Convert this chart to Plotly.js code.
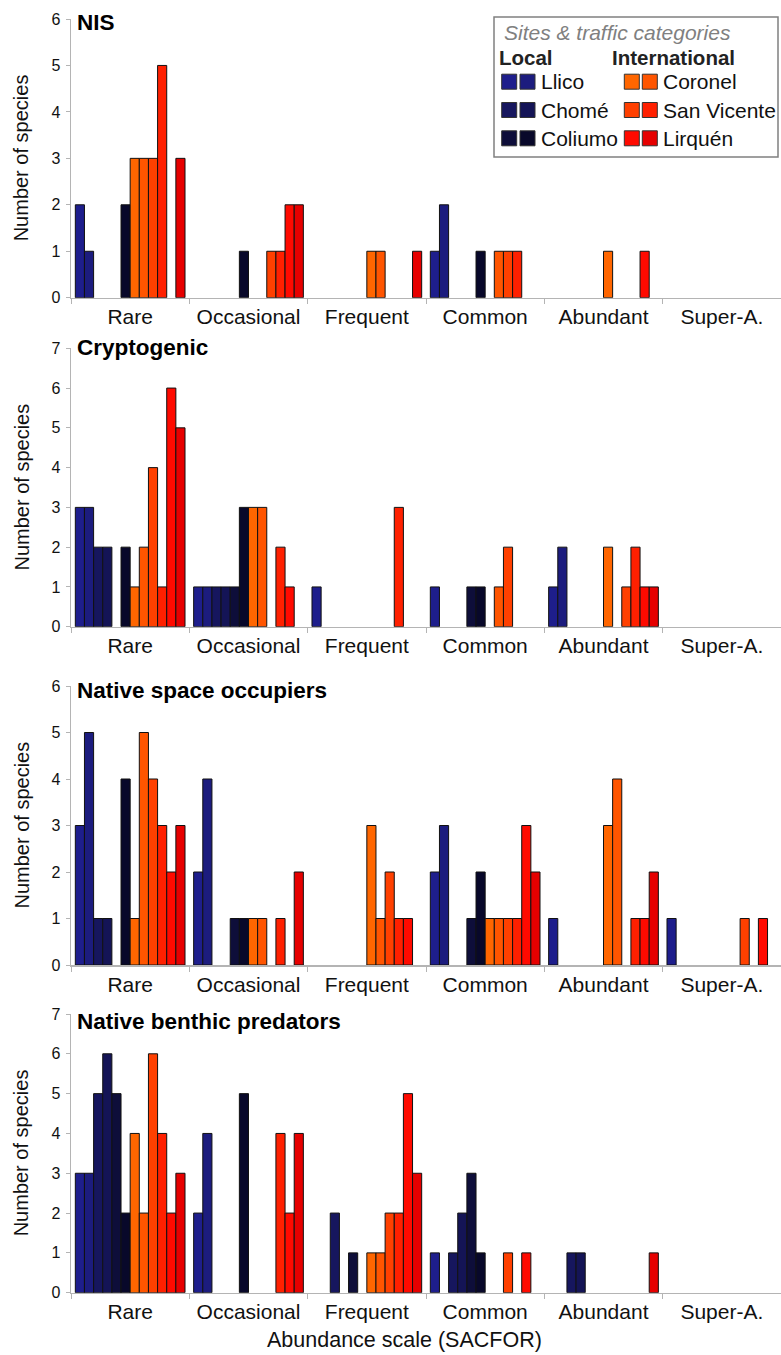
<!DOCTYPE html>
<html>
<head>
<meta charset="utf-8">
<script src="https://cdn.plot.ly/plotly-3.0.1.min.js"></script>
<style>html,body{margin:0;padding:0;background:#fff;}#chart{width:781px;height:1355px;}</style>
</head>
<body>
<div id="chart"></div>
<script>
// ---------- DATA ----------
const categories = ["Rare", "Occasional", "Frequent", "Common", "Abundant", "Super-A."];
const seriesNames = ["Llico 1", "Llico 2", "Chomé 1", "Chomé 2", "Coliumo 1", "Coliumo 2",
                     "Coronel 1", "Coronel 2", "San Vicente 1", "San Vicente 2", "Lirquén 1", "Lirquén 2"];
const localSites = ["Llico", "Chomé", "Coliumo"];
const internationalSites = ["Coronel", "San Vicente", "Lirquén"];
const panelTitles = ["NIS", "Cryptogenic", "Native space occupiers", "Native benthic predators"];
const yMax = [6, 7, 6, 7];

// rows = abundance category, columns = series (same order as seriesNames)
const nisCounts = [
  [2,1,0,0,0,2,3,3,3,5,0,3],
  [0,0,0,0,0,1,0,0,1,1,2,2],
  [0,0,0,0,0,0,1,1,0,0,0,1],
  [1,2,0,0,0,1,0,1,1,1,0,0],
  [0,0,0,0,0,0,1,0,0,0,1,0],
  [0,0,0,0,0,0,0,0,0,0,0,0]
];
const cryptogenicCounts = [
  [3,3,2,2,0,2,1,2,4,1,6,5],
  [1,1,1,1,1,3,3,3,0,2,1,0],
  [1,0,0,0,0,0,0,0,0,3,0,0],
  [1,0,0,0,1,1,0,1,2,0,0,0],
  [1,2,0,0,0,0,2,0,1,2,1,1],
  [0,0,0,0,0,0,0,0,0,0,0,0]
];
const spaceOccupierCounts = [
  [3,5,1,1,0,4,1,5,4,3,2,3],
  [2,4,0,0,1,1,1,1,0,1,0,2],
  [0,0,0,0,0,0,3,1,2,1,1,0],
  [2,3,0,0,1,2,1,1,1,1,3,2],
  [1,0,0,0,0,0,3,4,0,1,1,2],
  [1,0,0,0,0,0,0,0,1,0,1,0]
];
const benthicPredatorCounts = [
  [3,3,5,6,5,2,4,2,6,4,2,3],
  [2,4,0,0,0,5,0,0,0,4,2,4],
  [0,0,2,0,1,0,1,1,2,2,5,3],
  [1,0,1,2,3,1,0,0,1,0,1,0],
  [0,0,1,1,0,0,0,0,0,0,0,1],
  [0,0,0,0,0,0,0,0,0,0,0,0]
];

// ---------- STYLE ----------
const seriesColors = ["#1e1e8c","#1c1c7e","#16165e","#141456","#0e0e3a","#08082a",
                      "#ff6600","#ff5500","#ff4000","#ff2000","#ff0a00","#e60000"];
const W = 781, H = 1355;
const FONT = "Liberation Sans, Arial, sans-serif";
const panelPx = [[19, 297.7], [348.3, 626.7], [686, 965], [1014, 1292.7]];
const titleCenterPx = [22, 347.5, 690, 1021.5];
const xLeftPx = 71;
const px = v => v / W;
const py = v => 1 - v / H;

const panelData = [nisCounts, cryptogenicCounts, spaceOccupierCounts, benthicPredatorCounts];

const traces = [];
const layout = {
  width: W, height: H,
  margin: {l: 0, r: 0, t: 0, b: 0},
  paper_bgcolor: "#fff", plot_bgcolor: "rgba(0,0,0,0)",
  barmode: "group", bargap: 0.073, bargroupgap: 0,
  showlegend: false,
  font: {family: FONT, color: "#111"},
  annotations: [], shapes: []
};

panelData.forEach((data, p) => {
  const xa = p === 0 ? "x" : "x" + (p + 1);
  const ya = p === 0 ? "y" : "y" + (p + 1);
  seriesNames.forEach((name, s) => {
    traces.push({
      type: "bar", name: name, x: categories,
      y: categories.map((c, ci) => data[ci][s] === 0 ? null : data[ci][s]),
      xaxis: xa, yaxis: ya,
      marker: {color: seriesColors[s], line: {color: "#111", width: 1}},
      hoverinfo: "x+y+name"
    });
  });
  const [top, bot] = panelPx[p];
  const xKey = p === 0 ? "xaxis" : "xaxis" + (p + 1);
  const yKey = p === 0 ? "yaxis" : "yaxis" + (p + 1);
  layout[xKey] = {
    domain: [px(xLeftPx), 1], anchor: ya,
    type: "category", categoryorder: "array", categoryarray: categories,
    range: [-0.5, 5.5], showgrid: false, zeroline: false,
    showline: true, linecolor: "#b4b4b4", linewidth: 1.5,
    ticks: "outside", tickson: "boundaries", ticklen: 5, tickcolor: "#b4b4b4", tickwidth: 1,
    tickfont: {family: FONT, size: 21, color: "#111"},
    automargin: false, fixedrange: true
  };
  layout[yKey] = {
    domain: [py(bot), py(top)], anchor: xa,
    range: [0, yMax[p]], dtick: 1, showgrid: false, zeroline: false,
    showline: true, linecolor: "#b4b4b4", linewidth: 1.5,
    ticks: "outside", ticklen: 4, tickcolor: "#b4b4b4", tickwidth: 1,
    ticklabelstandoff: 2,
    tickfont: {family: FONT, size: 16, color: "#111"},
    automargin: false, fixedrange: true
  };
  // panel title
  layout.annotations.push({
    text: "<b>" + panelTitles[p] + "</b>", xref: "paper", yref: "paper",
    x: px(75), y: py(titleCenterPx[p]), xanchor: "left", yanchor: "middle",
    showarrow: false, font: {family: FONT, size: 22.5, color: "#000"}
  });
  // y axis title
  layout.annotations.push({
    text: "Number of species", xref: "paper", yref: "paper", textangle: -90,
    x: px(21), y: py((top + bot) / 2), xanchor: "center", yanchor: "middle",
    showarrow: false, font: {family: FONT, size: 20, color: "#111"}
  });
});

// x axis title
layout.annotations.push({
  text: "Abundance scale (SACFOR)", xref: "paper", yref: "paper",
  x: px(404), y: py(1340), xanchor: "center", yanchor: "middle",
  showarrow: false, font: {family: FONT, size: 21.5, color: "#111"}
});

// ---------- custom legend ----------
layout.shapes.push({type: "rect", xref: "paper", yref: "paper",
  x0: px(494), x1: px(778), y0: py(157), y1: py(17),
  line: {color: "#808080", width: 1.5}, fillcolor: "#fff", layer: "above"});
layout.annotations.push({text: "<i>Sites & traffic categories</i>", xref: "paper", yref: "paper",
  x: px(502), y: py(32.5), xanchor: "left", yanchor: "middle", showarrow: false,
  font: {family: FONT, size: 21, color: "#808080"}});
layout.annotations.push({text: "<b>Local</b>", xref: "paper", yref: "paper",
  x: px(497), y: py(57.5), xanchor: "left", yanchor: "middle", showarrow: false,
  font: {family: FONT, size: 20.5, color: "#222"}});
layout.annotations.push({text: "<b>International</b>", xref: "paper", yref: "paper",
  x: px(610), y: py(57.5), xanchor: "left", yanchor: "middle", showarrow: false,
  font: {family: FONT, size: 20.5, color: "#222"}});
const rowY = [81.7, 110, 138.3];
const groups = [{sites: localSites, sw: [501.7, 520], lab: 539, off: 0},
                {sites: internationalSites, sw: [624.3, 642.3], lab: 660.5, off: 6}];
groups.forEach(g => {
  g.sites.forEach((site, i) => {
    [0, 1].forEach(k => {
      layout.shapes.push({type: "rect", xref: "paper", yref: "paper",
        x0: px(g.sw[k]), x1: px(g.sw[k] + 15), y0: py(rowY[i] + 7.5), y1: py(rowY[i] - 7.5),
        fillcolor: seriesColors[g.off + i * 2 + k], line: {color: "#333", width: 1}, layer: "above"});
    });
    layout.annotations.push({text: site, xref: "paper", yref: "paper",
      x: px(g.lab), y: py(rowY[i]), xanchor: "left", yanchor: "middle", showarrow: false,
      font: {family: FONT, size: 21, color: "#111"}});
  });
});

Plotly.newPlot("chart", traces, layout, {displayModeBar: false, staticPlot: true});
</script>
</body>
</html>
